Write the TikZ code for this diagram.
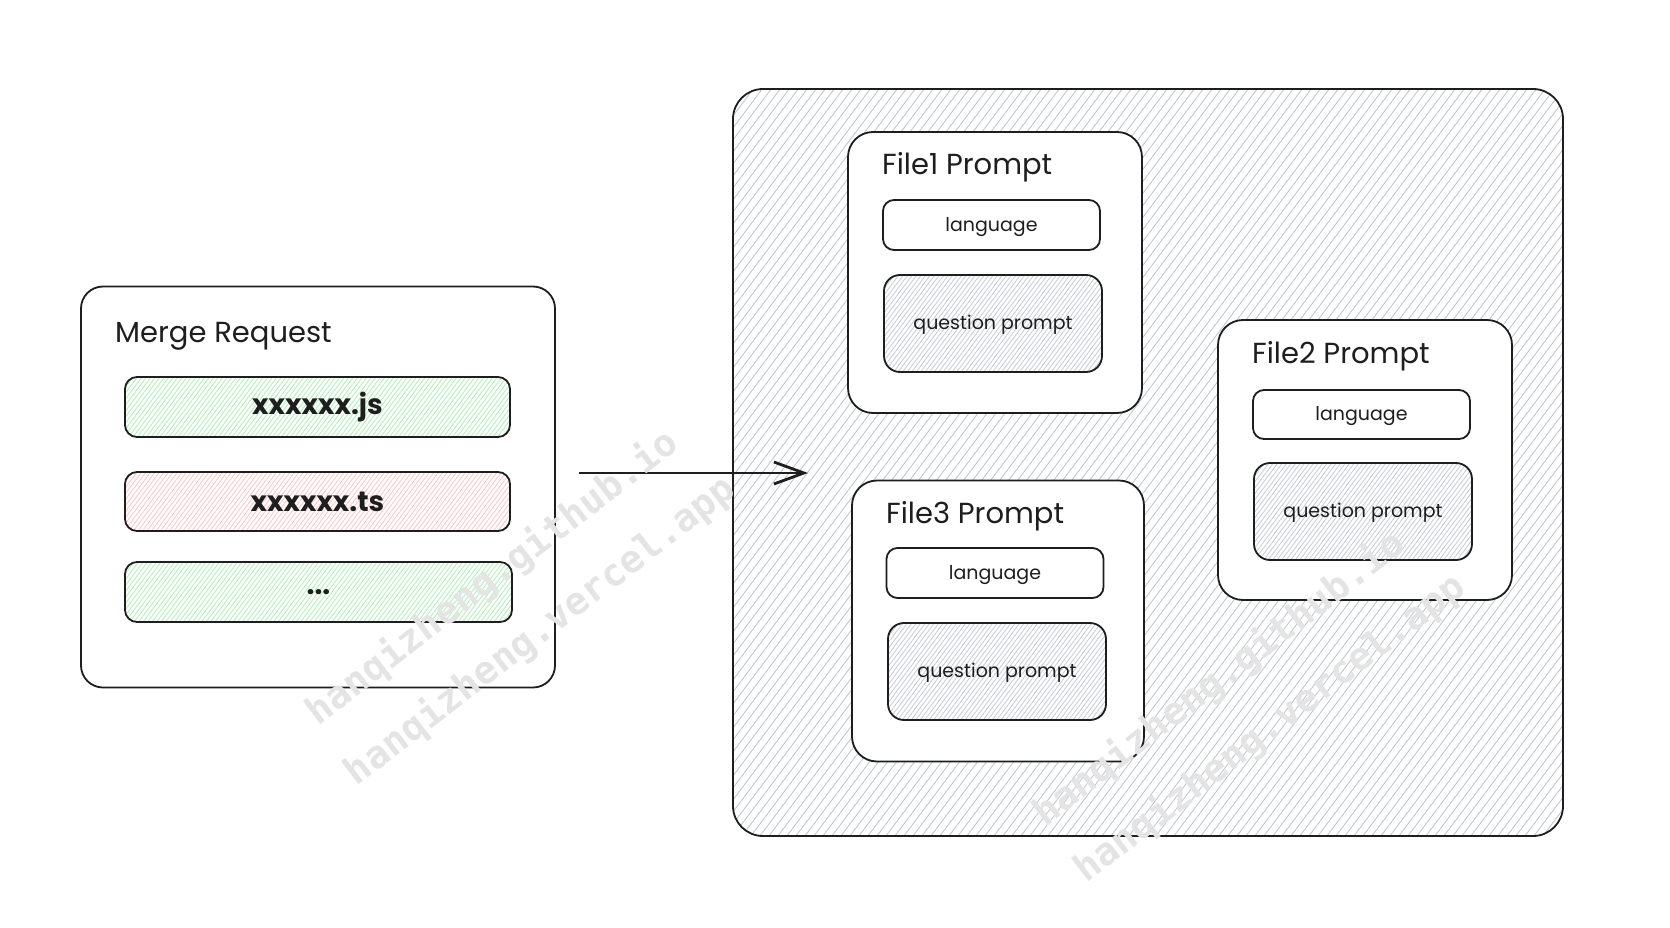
\documentclass[tikz,border=0pt]{standalone}
\usepackage{fontspec}
\setmainfont{Poppins}
\newfontfamily\wmfont{DejaVu Sans Mono}
\usetikzlibrary{arrows.meta,calc}
\definecolor{ink}{HTML}{1E1E1E}
\definecolor{hgray}{HTML}{C4C9D2}
\definecolor{hqgray}{HTML}{CDD1D8}
\definecolor{hgreen}{HTML}{B2F2BB}
\definecolor{hred}{HTML}{FFC9C9}
\definecolor{wm}{HTML}{E4E4E4}
\tikzset{
  hatch/.style n args={3}{path picture={
    \foreach \i in {-#3,...,#3}{
      \draw[#1,line width=0.9pt]
        ([shift={(\i*#2-315,420)}]path picture bounding box.center) --
        ([shift={(\i*#2+315,-420)}]path picture bounding box.center);}}},
  box/.style={draw=ink, line width=1.8pt, rounded corners=#1, inner sep=0pt},
  titletext/.style={font=\fontsize{29}{32}\selectfont, text=ink, inner sep=0pt},
  filetext/.style={font=\fontsize{28}{30}\selectfont\bfseries, text=ink},
  smalltext/.style={font=\fontsize{19}{22}\selectfont, text=ink, text depth=2pt},
  wmtext/.style={font=\wmfont\bfseries\fontsize{38}{40}\selectfont, text=wm, rotate=37.5, inner sep=0pt},
  arrowline/.style={draw=ink, line width=2.8pt, -{Straight Barb[length=30pt,width=22pt]}}
}
\begin{document}
\begin{tikzpicture}[x=1pt,y=-1pt]
\useasboundingbox[fill=white] (0,0) rectangle (1670,928);

% Merge request
\node[box=22pt, fill=white, minimum width=474pt, minimum height=401pt] (mr) at (318,487) {};
\node[titletext, anchor=base west] (mrt) at (115,342) {Merge Request};
\node[box=12pt, fill=white, hatch={hgreen}{4.5}{50}, minimum width=385pt, minimum height=60pt, filetext] (js) at (317.5,407) {xxxxxx.js};
\node[box=12pt, fill=white, hatch={hred}{4.5}{50}, minimum width=385pt, minimum height=59pt, filetext] (ts) at (317.5,501.5) {xxxxxx.ts};
\node[box=12pt, fill=white, hatch={hgreen}{4.5}{50}, minimum width=387pt, minimum height=60pt, filetext] (dots) at (318.5,592) {...};

% container
\node[box=30pt, hatch={hgray}{9}{80}, minimum width=830pt, minimum height=747pt] (outer) at (1148,462.5) {};

% File1
\node[box=25pt, fill=white, minimum width=294pt, minimum height=281pt] (f1) at (995,272.5) {};
\node[titletext, anchor=base west] (f1t) at (882,175) {File1 Prompt};
\node[box=11pt, fill=white, minimum width=217pt, minimum height=50pt, smalltext] (f1l) at (991.5,225) {language};
\node[box=16pt, fill=white, hatch={hqgray}{4.5}{35}, minimum width=218pt, minimum height=97pt, smalltext] (f1q) at (993,323.5) {question prompt};

% File2
\node[box=25pt, fill=white, minimum width=294pt, minimum height=280pt] (f2) at (1365,460) {};
\node[titletext, anchor=base west] (f2t) at (1252,363) {File2 Prompt};
\node[box=11pt, fill=white, minimum width=217pt, minimum height=49pt, smalltext] (f2l) at (1361.5,414.5) {language};
\node[box=16pt, fill=white, hatch={hqgray}{4.5}{35}, minimum width=218pt, minimum height=97pt, smalltext] (f2q) at (1363,511.5) {question prompt};

% File3
\node[box=25pt, fill=white, minimum width=292pt, minimum height=281pt] (f3) at (998,621) {};
\node[titletext, anchor=base west] (f3t) at (886,523) {File3 Prompt};
\node[box=11pt, fill=white, minimum width=217pt, minimum height=50pt, smalltext] (f3l) at (995,573) {language};
\node[box=16pt, fill=white, hatch={hqgray}{4.5}{35}, minimum width=218pt, minimum height=97pt, smalltext] (f3q) at (997,671.5) {question prompt};

% arrow
\coordinate (as) at (579,473);
\coordinate (ae) at (808,473);
\draw[arrowline] (as) -- (ae);

% watermarks
\node[wmtext] (wm1) at (492.6,577.8) {hanqizheng.github.io};
\node[wmtext] (wm2) at (540.5,631) {hanqizheng.vercel.app};
\node[wmtext] (wm3) at (1219.5,679) {hanqizheng.github.io};
\node[wmtext] (wm4) at (1270,728.5) {hanqizheng.vercel.app};
\end{tikzpicture}
\end{document}
